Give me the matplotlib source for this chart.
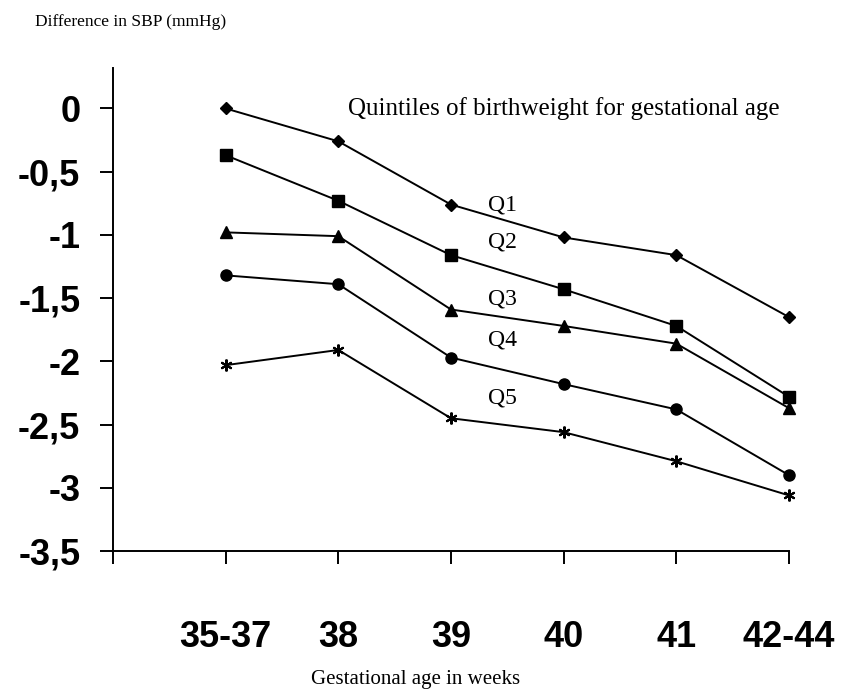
import matplotlib.pyplot as plt
import numpy as np

# categories on the x axis
weeks = ['35-37', '38', '39', '40', '41', '42-44']

# difference in SBP per quintile
q1 = [0.0, -0.26, -0.76, -1.02, -1.16, -1.65]
q2 = [-0.37, -0.73, -1.16, -1.43, -1.72, -2.28]
q3 = [-0.98, -1.01, -1.59, -1.72, -1.86, -2.37]
q4 = [-1.32, -1.39, -1.97, -2.18, -2.38, -2.90]
q5 = [-2.03, -1.91, -2.45, -2.56, -2.79, -3.06]

yticks = [0, -0.5, -1, -1.5, -2, -2.5, -3, -3.5]
ylabels = ['0', '-0,5', '-1', '-1,5', '-2', '-2,5', '-3', '-3,5']

serif = ['Liberation Serif', 'DejaVu Serif']
sans = ['Liberation Sans', 'DejaVu Sans']

fig = plt.figure(figsize=(8.42, 6.96), dpi=100)
ax = fig.add_axes([0.1342, 0.2083, 0.8028, 0.694])

x = np.arange(1, len(weeks) + 1)
kw = dict(color='k', lw=1.4, clip_on=False)
ax.plot(x, q1, marker='D', ms=6.5, **kw)
ax.plot(x, q2, marker='s', ms=8, **kw)
ax.plot(x, q3, marker='^', ms=9, **kw)
ax.plot(x, q4, marker='o', ms=8, **kw)
ax.plot(x, q5, marker=(6, 2, 0), ms=8.5, mew=1.5, **kw)

ax.set_xlim(0, 6)
ax.set_ylim(-3.5, 0.32)
ax.set_xticks(np.arange(0, 7))
ax.set_xticklabels([''] + weeks, family=sans, fontweight='bold', fontsize=26)
ax.set_yticks(yticks)
ax.set_yticklabels(ylabels, family=sans, fontweight='bold', fontsize=26)
ax.tick_params(axis='both', direction='out', length=9.5, width=1.4)
ax.tick_params(axis='x', pad=40)
ax.tick_params(axis='y', pad=14)

for s in ['top', 'right']:
    ax.spines[s].set_visible(False)
ax.spines['left'].set_linewidth(1.4)
ax.spines['bottom'].set_linewidth(1.4)

fig.text(0.0416, 0.968, 'Difference in SBP (mmHg)', family=serif, fontsize=12.5, va='center', ha='left')
fig.text(0.494, 0.023, 'Gestational age in weeks', family=serif, fontsize=15, va='center', ha='center')
ax.text(2.09, 0.0, 'Quintiles of birthweight for gestational age', family=serif, fontsize=18, va='center', ha='left')

for lab, yv in zip(['Q1', 'Q2', 'Q3', 'Q4', 'Q5'], [-0.76, -1.06, -1.51, -1.83, -2.29]):
    ax.text(3.33, yv, lab, family=serif, fontsize=17, va='center', ha='left')

fig.savefig('out.png', dpi=100)
